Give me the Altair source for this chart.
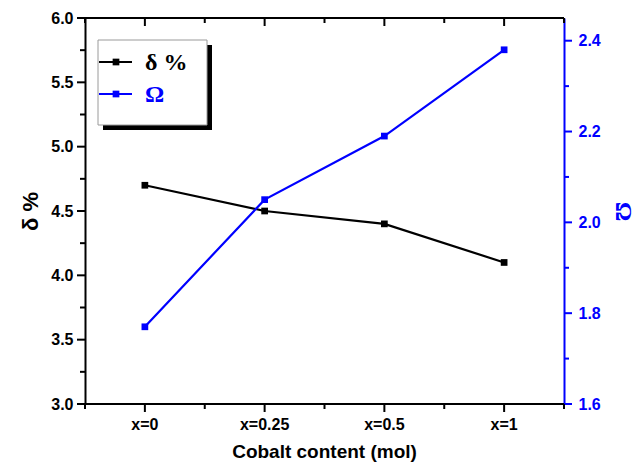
import altair as alt
import pandas as pd

# ---- data ----
categories = ["x=0", "x=0.25", "x=0.5", "x=1"]
delta_pct = [4.7, 4.5, 4.4, 4.1]
omega = [1.77, 2.05, 2.19, 2.38]

legend_names = ["δ %", "Ω"]
legend_colors = ["#000000", "#0000ff"]
x_title = ["Cobalt content (mol)"]

left_domain = [3.0, 6.0]
right_domain = [1.6, 2.45]
left_major = [3.0, 3.5, 4.0, 4.5, 5.0, 5.5, 6.0]
left_minor = [3.25, 3.75, 4.25, 4.75, 5.25, 5.75]
right_major = [1.6, 1.8, 2.0, 2.2, 2.4]
right_minor = [1.7, 1.9, 2.1, 2.3]

BLUE = "#0000ff"
FONT = "Liberation Sans"
W, H = 479, 386
MAJ, MIN = 8, 5

n = len(categories)
x_major = list(range(n))
x_minor = [i - 0.5 for i in range(n + 1)]

df = pd.DataFrame({
    "cat": categories,
    "idx": list(range(n)),
    "delta": delta_pct,
    "omega": omega,
})

x_scale = alt.Scale(domain=[-0.5, n - 0.5], nice=False, zero=False)
yl_scale = alt.Scale(domain=left_domain, nice=False, zero=False)
yr_scale = alt.Scale(domain=right_domain, nice=False, zero=False)

left_axis = alt.Axis(
    orient="left", values=left_major, format=".1f",
    title="δ %", grid=False, ticks=False,
    domainColor="black", domainWidth=2,
    labelFont=FONT, labelFontSize=16, labelFontWeight="bold", labelColor="black",
    labelPadding=MAJ + 4, labelFlush=False, labelOverlap=False,
    titleFont=FONT, titleFontSize=22, titleFontWeight="bold", titleColor="black",
    titlePadding=8,
)

right_axis = alt.Axis(
    orient="right", values=right_major, format=".1f",
    title="Ω", grid=False, ticks=False,
    domainColor=BLUE, domainWidth=2,
    labelFont=FONT, labelFontSize=16, labelFontWeight="bold", labelColor=BLUE,
    labelPadding=MAJ + 6, labelFlush=False, labelOverlap=False,
    titleFont="Liberation Serif", titleFontSize=24, titleFontWeight="bold", titleColor=BLUE,
    titlePadding=10,
)

base = alt.Chart(df)

delta_line = base.mark_line(
    color="black", strokeWidth=2.2,
    point=alt.OverlayMarkDef(shape="square", size=45, filled=True, color="black", opacity=1),
).encode(
    x=alt.X("idx:Q", scale=x_scale, axis=None),
    y=alt.Y("delta:Q", scale=yl_scale, axis=left_axis),
)

omega_line = base.mark_line(
    color=BLUE, strokeWidth=2.2,
    point=alt.OverlayMarkDef(shape="square", size=45, filled=True, color=BLUE, opacity=1),
).encode(
    x=alt.X("idx:Q", scale=x_scale, axis=None),
    y=alt.Y("omega:Q", scale=yr_scale, axis=right_axis),
)

# category labels and x title, placed through the x scale
x_labels = base.mark_text(
    baseline="middle", align="center", font=FONT, fontSize=16, fontWeight="bold", color="black"
).encode(x=alt.X("idx:Q", scale=x_scale, axis=None), y=alt.value(H + 21), text="cat:N")

title_df = pd.DataFrame({"t": x_title})
x_title_mark = alt.Chart(title_df).mark_text(
    baseline="middle", align="center", font=FONT, fontSize=19, fontWeight="bold", color="black"
).encode(x=alt.value(W / 2), y=alt.value(H + 48), text="t:N")


# ---- tick marks (rect ticks) drawn through the scales ----
def yticks(values, scale, xc, length, color):
    d = pd.DataFrame({"v": values})
    return alt.Chart(d).mark_tick(
        orient="horizontal", color=color, size=length, thickness=2, opacity=1, filled=True
    ).encode(y=alt.Y("v:Q", scale=scale, axis=None), x=alt.value(xc))


def xticks(values, yc, length):
    d = pd.DataFrame({"v": values})
    return alt.Chart(d).mark_tick(
        orient="vertical", color="black", size=length, thickness=2, opacity=1, filled=True
    ).encode(x=alt.X("v:Q", scale=x_scale, axis=None), y=alt.value(yc))


tick_layers = [
    yticks(left_major, yl_scale, -MAJ / 2, MAJ, "black"),
    yticks(left_minor, yl_scale, -MIN / 2, MIN, "black"),
    yticks(right_major, yr_scale, W + MAJ / 2, MAJ, BLUE),
    yticks(right_minor, yr_scale, W + MIN / 2, MIN, BLUE),
    xticks(x_major, H + MAJ / 2, MAJ),
    xticks(x_minor, H + MIN / 2, MIN),
    xticks(x_major, MAJ / 2, MAJ),
    xticks(x_minor, MIN / 2, MIN),
]

one = pd.DataFrame({"a": [0]})
bottom_border = alt.Chart(one).mark_rect(fill="black").encode(
    x=alt.value(-1), x2=alt.value(W), y=alt.value(H - 1), y2=alt.value(H + 1))
top_border = alt.Chart(one).mark_rect(fill="black").encode(
    x=alt.value(-1), x2=alt.value(W), y=alt.value(-1), y2=alt.value(1))

# ---- hand-drawn legend box (Origin style, with shadow) ----
shadow = alt.Chart(one).mark_rect(fill="black").encode(
    x=alt.value(18), x2=alt.value(127), y=alt.value(27), y2=alt.value(112))
box = alt.Chart(one).mark_rect(fill="white", stroke="#9a9a9a", strokeWidth=1).encode(
    x=alt.value(13), x2=alt.value(122), y=alt.value(22), y2=alt.value(107))

leg_df = pd.DataFrame({"name": legend_names, "color": legend_colors})
legend_layers = []
row_y = [44, 76]
for i in range(len(legend_names)):
    d = leg_df.iloc[[i]]
    c = legend_colors[i]
    legend_layers.append(alt.Chart(d).mark_rule(color=c, strokeWidth=2).encode(
        x=alt.value(14), x2=alt.value(47), y=alt.value(row_y[i])))
    legend_layers.append(alt.Chart(d).mark_point(shape="square", size=45, filled=True, color=c, opacity=1).encode(
        x=alt.value(31), y=alt.value(row_y[i])))
    legend_layers.append(alt.Chart(d).mark_text(
        align="left", baseline="middle", font="Liberation Serif", fontSize=24, fontWeight="bold", color=c
    ).encode(x=alt.value(60), y=alt.value(row_y[i] + 1), text="name:N"))

chart = alt.layer(
    delta_line, omega_line, x_labels, x_title_mark, *tick_layers,
    bottom_border, top_border, shadow, box, *legend_layers
).resolve_scale(
    y="independent"
).properties(
    width=W, height=H,
    autosize=alt.AutoSizeParams(type="none"),
    padding={"left": 85, "top": 18, "right": 644 - 85 - W, "bottom": 469 - 18 - H},
    background="white",
).configure_view(stroke=None)

chart.save("out.html", embed_options={"renderer": "svg", "actions": False})
